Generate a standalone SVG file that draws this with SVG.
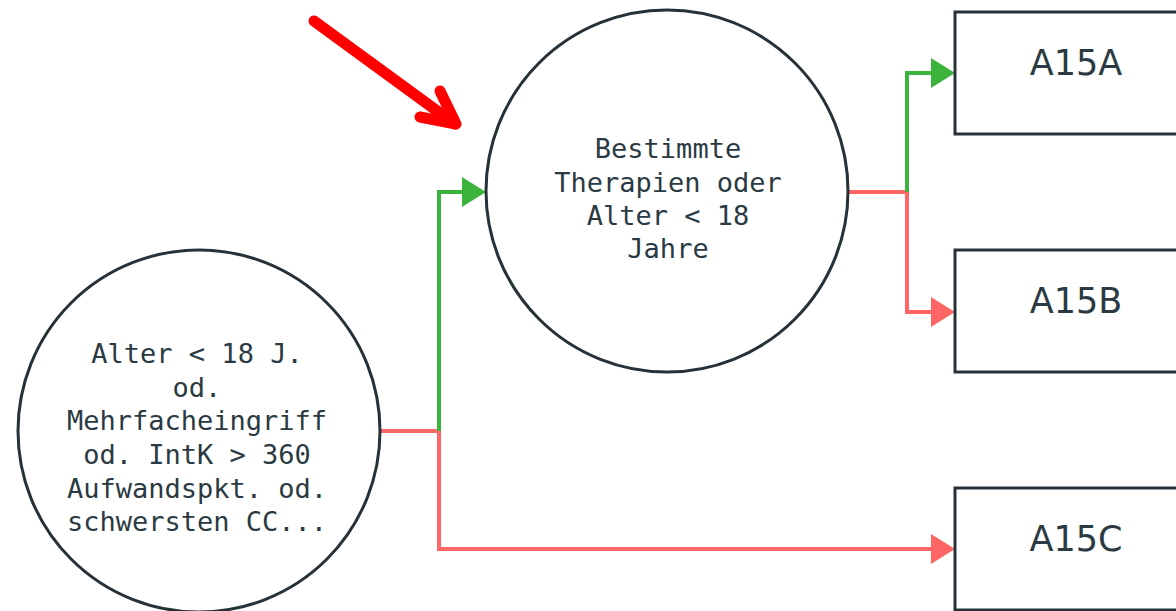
<svg xmlns="http://www.w3.org/2000/svg" width="1176" height="611" viewBox="0 0 1176 611">
  <defs>
    <marker id="head-green" viewBox="0 0 24 30" refX="21" refY="15" markerWidth="24" markerHeight="30" markerUnits="userSpaceOnUse" orient="auto">
      <path d="M0,0 L24,15 L0,30 Z" fill="#3cb33c"/>
    </marker>
    <marker id="head-red" viewBox="0 0 24 30" refX="21" refY="15" markerWidth="24" markerHeight="30" markerUnits="userSpaceOnUse" orient="auto">
      <path d="M0,0 L24,15 L0,30 Z" fill="#ff6666"/>
    </marker>
  </defs>
  <style>
    .decision { fill: #ffffff; stroke: #263238; stroke-width: 3; }
    .result { fill: #ffffff; stroke: #263238; stroke-width: 3; }
    .qtext { font-family: "DejaVu Sans Mono", "Liberation Mono", monospace; font-size: 27px; fill: #2b3a42; text-anchor: middle; }
    .rtext { font-family: "DejaVu Sans", "Liberation Sans", sans-serif; font-size: 35px; fill: #2b3a42; text-anchor: middle; }
    .yes { fill: none; stroke: #3cb33c; stroke-width: 4; }
    .no { fill: none; stroke: #ff6666; stroke-width: 4; }
    .pointer { fill: none; stroke: #ff0000; stroke-width: 11; stroke-linecap: round; stroke-linejoin: round; }
  </style>
  <rect width="1176" height="611" fill="#ffffff"/>

  <!-- connectors: green = yes, red = no -->
  <g id="connectors">
    <path class="no" d="M380,431 H439 V549 H952" marker-end="url(#head-red)"/>
    <path class="yes" d="M439,431 V192 H483" marker-end="url(#head-green)"/>
    <path class="no" d="M848,192 H907 V312 H952" marker-end="url(#head-red)"/>
    <path class="yes" d="M907,192 V73 H952" marker-end="url(#head-green)"/>
  </g>

  <!-- decision nodes -->
  <g id="node-therapien">
    <circle class="decision" cx="667" cy="191" r="181"/>
    <text class="qtext" x="668" y="158">Bestimmte</text>
    <text class="qtext" x="668" y="192">Therapien oder</text>
    <text class="qtext" x="668" y="225">Alter &lt; 18</text>
    <text class="qtext" x="668" y="258">Jahre</text>
  </g>
  <g id="node-alter">
    <circle class="decision" cx="199" cy="431" r="181"/>
    <text class="qtext" x="197" y="363">Alter &lt; 18 J.</text>
    <text class="qtext" x="197" y="397">od.</text>
    <text class="qtext" x="197" y="430">Mehrfacheingriff</text>
    <text class="qtext" x="197" y="464">od. IntK &gt; 360</text>
    <text class="qtext" x="197" y="498">Aufwandspkt. od.</text>
    <text class="qtext" x="197" y="531">schwersten CC...</text>
  </g>

  <!-- result nodes -->
  <g id="node-a15a">
    <rect class="result" x="955" y="12" width="244" height="122"/>
    <text class="rtext" x="1076" y="75">A15A</text>
  </g>
  <g id="node-a15b">
    <rect class="result" x="955" y="250" width="244" height="122"/>
    <text class="rtext" x="1076" y="313">A15B</text>
  </g>
  <g id="node-a15c">
    <rect class="result" x="955" y="488" width="244" height="122"/>
    <text class="rtext" x="1076" y="551">A15C</text>
  </g>

  <!-- hand-drawn highlight arrow -->
  <g id="highlight-arrow">
    <path class="pointer" d="M314,21 L455,124"/>
    <path class="pointer" d="M440,91 L456,124 L420,117"/>
  </g>
</svg>
